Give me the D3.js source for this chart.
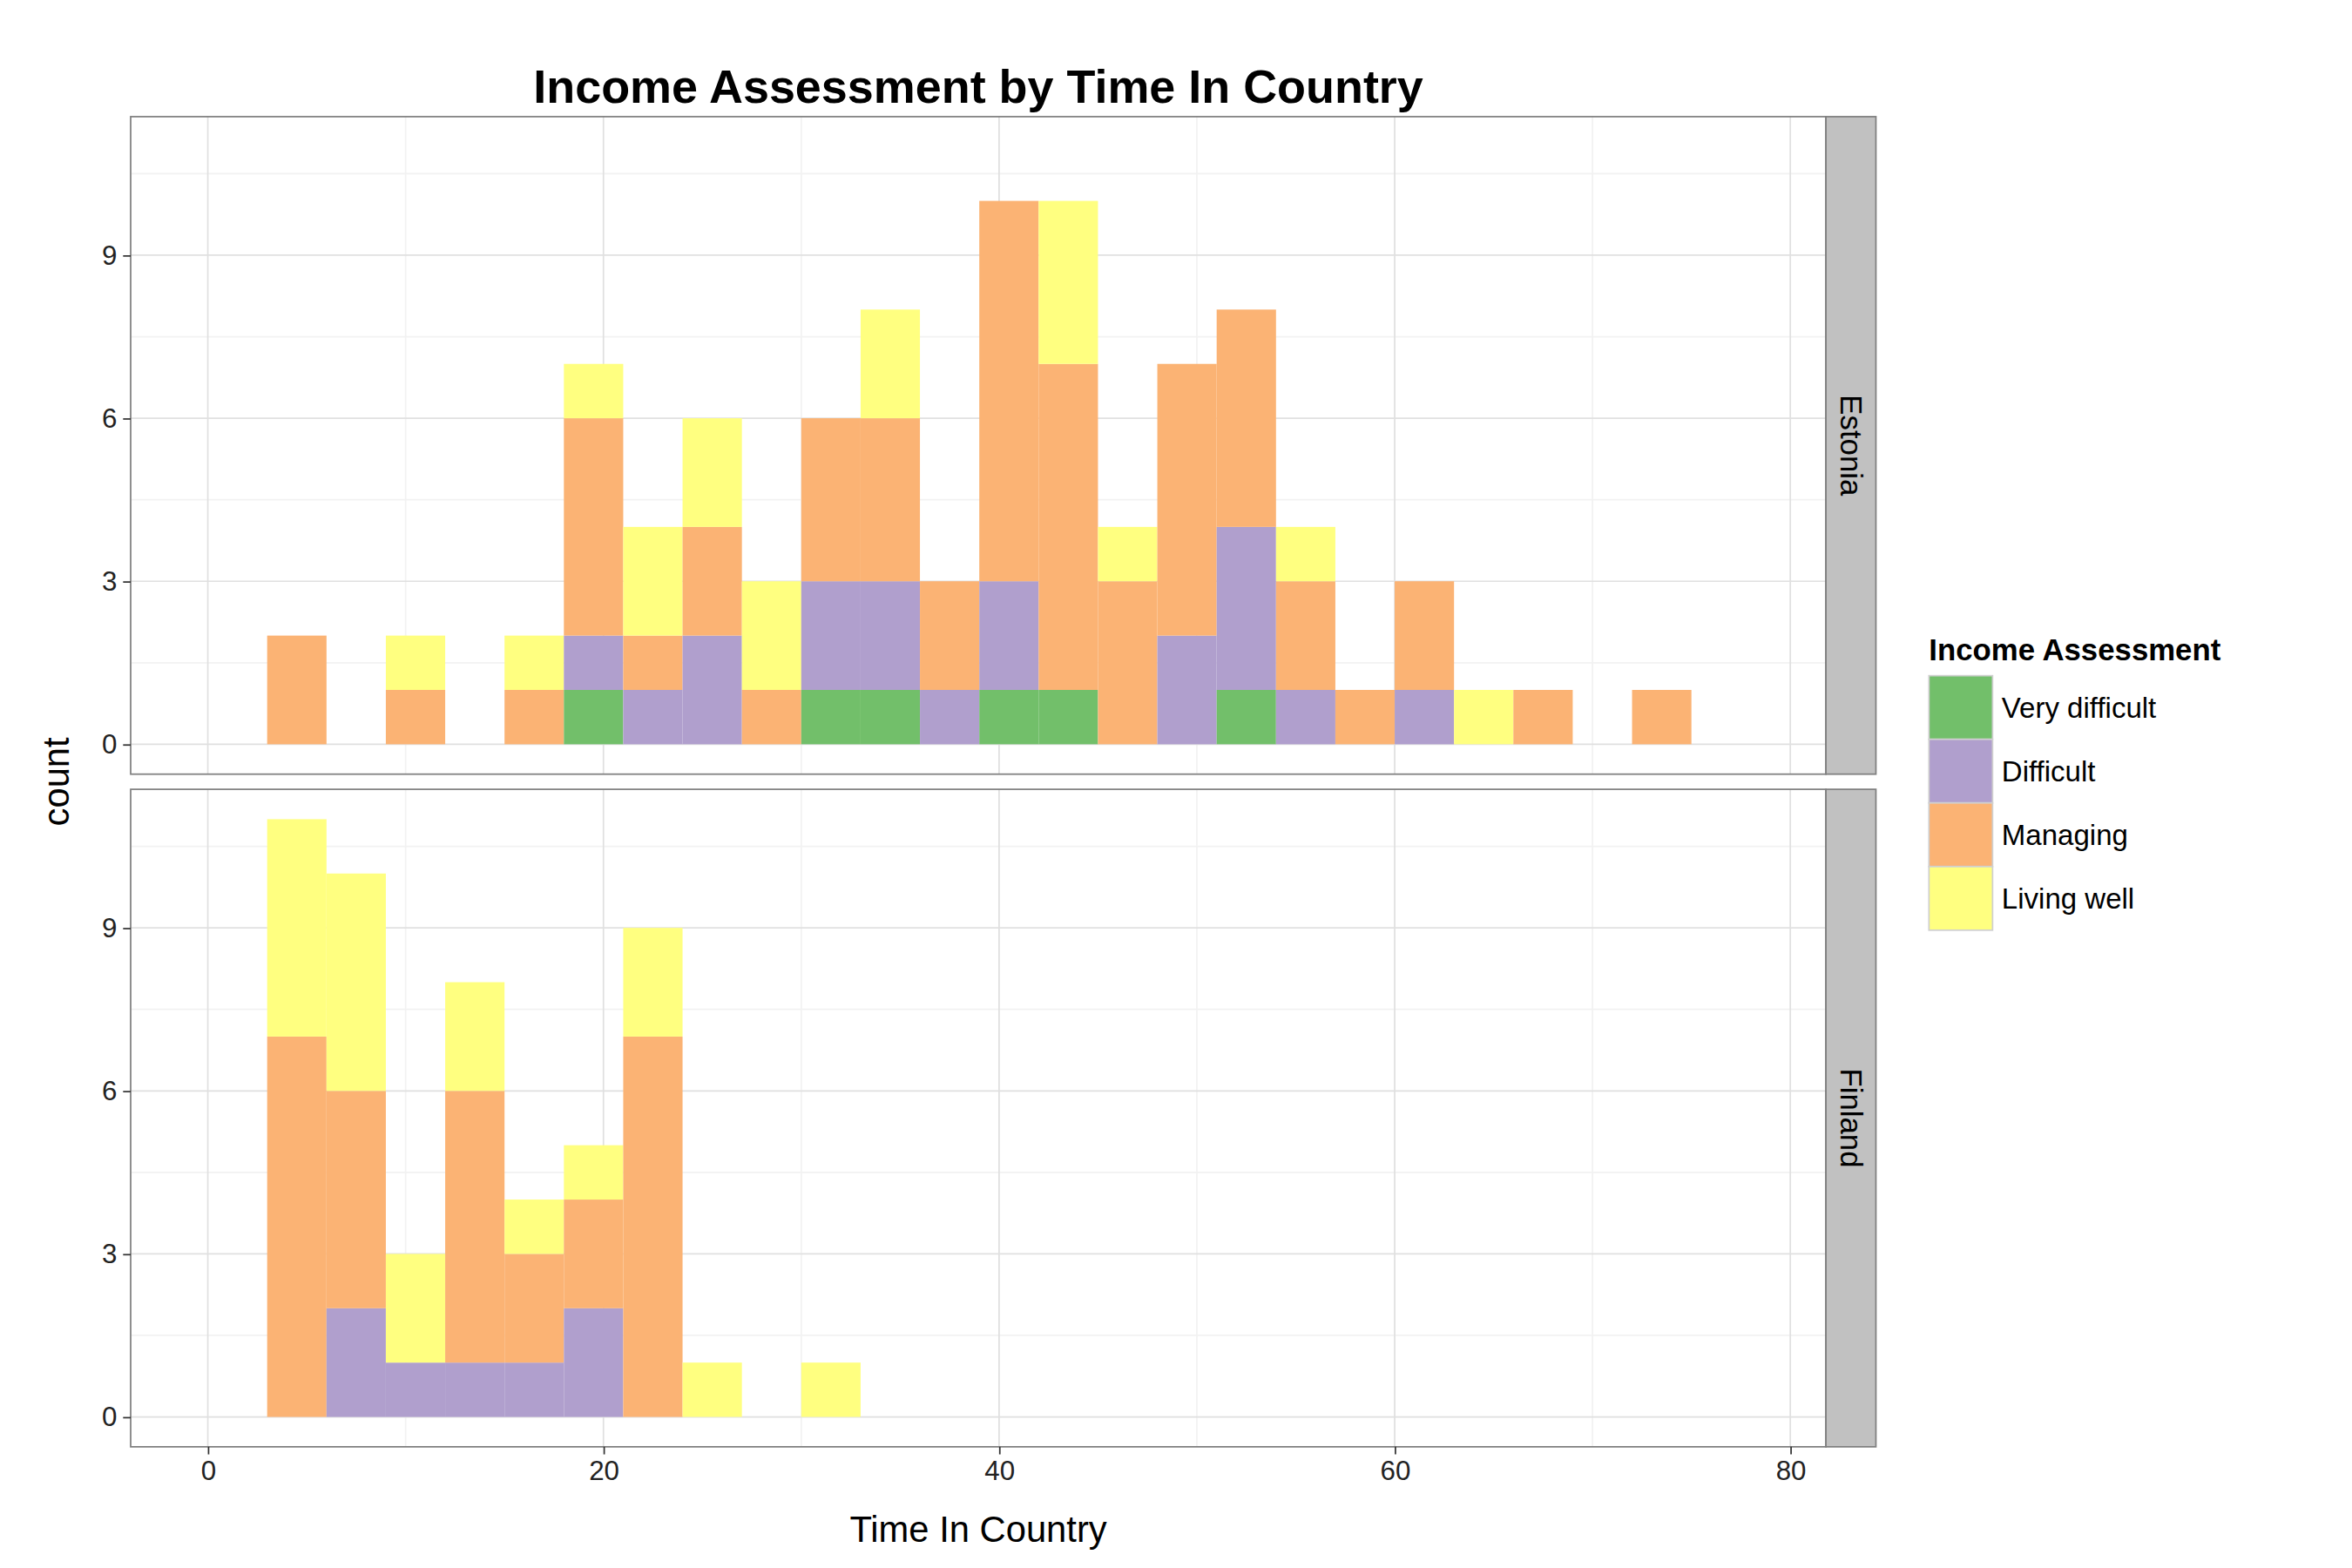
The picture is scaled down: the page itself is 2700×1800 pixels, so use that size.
<!DOCTYPE html>
<html><head><meta charset="utf-8">
<script src="https://cdn.jsdelivr.net/npm/d3@7"></script>
<style>body{margin:0;background:#fff}text{font-family:"Liberation Sans",Arial,sans-serif}</style>
</head><body><div id="chart"></div>
<script>
const levels = ["Very difficult", "Difficult", "Managing", "Living well"];
const colors = ["#72bf6a", "#b09fcd", "#fbb374", "#ffff80"];
const countries = ["Estonia", "Finland"];
const binStarts = [3,6,9,12,15,18,21,24,27,30,33,36,39,42,45,48,51,54,57,60,63,66,69,72];
// counts per bin: [Very difficult, Difficult, Managing, Living well]
const estonia = [
  [0,0,2,0],[0,0,0,0],[0,0,1,1],[0,0,0,0],[0,0,1,1],[1,1,4,1],[0,1,1,2],[0,2,2,2],
  [0,0,1,2],[1,2,3,0],[1,2,3,2],[0,1,2,0],[1,2,7,0],[1,0,6,3],[0,0,3,1],[0,2,5,0],
  [1,3,4,0],[0,1,2,1],[0,0,1,0],[0,1,2,0],[0,0,0,1],[0,0,1,0],[0,0,0,0],[0,0,1,0]
];
const finland = [
  [0,0,7,4],[0,2,4,4],[0,1,0,2],[0,1,5,2],[0,1,2,1],[0,2,2,1],[0,0,7,2],[0,0,0,1],
  [0,0,0,0],[0,0,0,1],[0,0,0,0],[0,0,0,0],[0,0,0,0],[0,0,0,0],[0,0,0,0],[0,0,0,0],
  [0,0,0,0],[0,0,0,0],[0,0,0,0],[0,0,0,0],[0,0,0,0],[0,0,0,0],[0,0,0,0],[0,0,0,0]
];
const binWidth = 3;
const xTicks = [0,20,40,60,80];
const yTicks = [0,3,6,9];

let W = 1552, H = 1035;
let svg = d3.select('#chart').append('svg')
  .attr('width', 2700).attr('height', 1800)
  .attr('viewBox', `0 0 ${W} ${H}`);

let left = 86, right = 1205, stripW = 33;
let panels = [{top: 77, bottom: 511, data: estonia}, {top: 521, bottom: 955, data: finland}];

let x = d3.scaleLinear().domain([-3.9, 81.8]).range([left, right]);

svg.append('text').text('Income Assessment by Time In Country')
  .attr('x', (left + right) / 2).attr('y', 68).attr('text-anchor', 'middle')
  .style('font-size', '31px').style('font-weight', 'bold');

panels.forEach((p, pi) => {
  let y = d3.scaleLinear().domain([-0.55, 11.55]).range([p.bottom, p.top]);
  let g = svg.append('g');
  g.append('rect').attr('x', left).attr('y', p.top).attr('width', right - left)
    .attr('height', p.bottom - p.top).attr('fill', 'white');
  // minor grid
  [10,30,50,70].forEach(v => g.append('line').attr('x1', x(v)).attr('x2', x(v))
    .attr('y1', p.top).attr('y2', p.bottom).attr('stroke', '#f2f2f2').attr('stroke-width', 1));
  [1.5,4.5,7.5,10.5].forEach(v => g.append('line').attr('y1', y(v)).attr('y2', y(v))
    .attr('x1', left).attr('x2', right).attr('stroke', '#f2f2f2').attr('stroke-width', 1));
  xTicks.forEach(v => g.append('line').attr('x1', x(v)).attr('x2', x(v))
    .attr('y1', p.top).attr('y2', p.bottom).attr('stroke', '#e0e0e0').attr('stroke-width', 1));
  yTicks.forEach(v => g.append('line').attr('y1', y(v)).attr('y2', y(v))
    .attr('x1', left).attr('x2', right).attr('stroke', '#e0e0e0').attr('stroke-width', 1));

  // stacked bars
  p.data.forEach((counts, bi) => {
    let base = 0;
    counts.forEach((c, li) => {
      if (c > 0) {
        g.append('rect').attr('x', x(binStarts[bi])).attr('width', x(binWidth) - x(0))
          .attr('y', y(base + c)).attr('height', y(base) - y(base + c))
          .attr('fill', colors[li]);
      }
      base += c;
    });
  });

  g.append('rect').attr('x', left).attr('y', p.top).attr('width', right - left)
    .attr('height', p.bottom - p.top).attr('fill', 'none').attr('stroke', '#7f7f7f');

  // y axis
  let ya = svg.append('g').attr('transform', `translate(${left},0)`)
    .call(d3.axisLeft(y).tickValues(yTicks).tickSize(5).tickPadding(4));
  ya.select('.domain').remove();
  ya.selectAll('line').attr('stroke', '#333');
  ya.selectAll('text').style('font-size', '18px').attr('fill', '#222');

  // strip
  svg.append('rect').attr('x', right).attr('y', p.top).attr('width', stripW)
    .attr('height', p.bottom - p.top).attr('fill', '#c1c1c1').attr('stroke', '#7f7f7f');
  let cy = (p.top + p.bottom) / 2;
  svg.append('text').text(countries[pi])
    .attr('transform', `translate(${right + stripW / 2},${cy}) rotate(90)`)
    .attr('text-anchor', 'middle').attr('dy', '0.35em').style('font-size', '20px');
});

let xa = svg.append('g').attr('transform', `translate(0,${panels[1].bottom})`)
  .call(d3.axisBottom(x).tickValues(xTicks).tickSize(5).tickPadding(4));
xa.select('.domain').remove();
xa.selectAll('line').attr('stroke', '#333');
xa.selectAll('text').style('font-size', '18px').attr('fill', '#222');

svg.append('text').text('Time In Country').attr('x', (left + right) / 2).attr('y', 1018)
  .attr('text-anchor', 'middle').style('font-size', '24px');
svg.append('text').text('count')
  .attr('transform', `translate(45,${(77 + 955) / 2}) rotate(-90)`)
  .attr('text-anchor', 'middle').style('font-size', '24px');

// legend
let lg = svg.append('g').attr('transform', 'translate(1273,428)');
lg.append('text').text('Income Assessment').attr('y', 8).style('font-size', '20px').style('font-weight', 'bold');
levels.forEach((l, i) => {
  lg.append('rect').attr('x', 0).attr('y', 18 + i * 42).attr('width', 42).attr('height', 42)
    .attr('fill', colors[i]).attr('stroke', '#d0d0d0');
  lg.append('text').text(l).attr('x', 48).attr('y', 39 + i * 42).attr('dy', '0.35em')
    .style('font-size', '19px');
});
</script></body></html>
